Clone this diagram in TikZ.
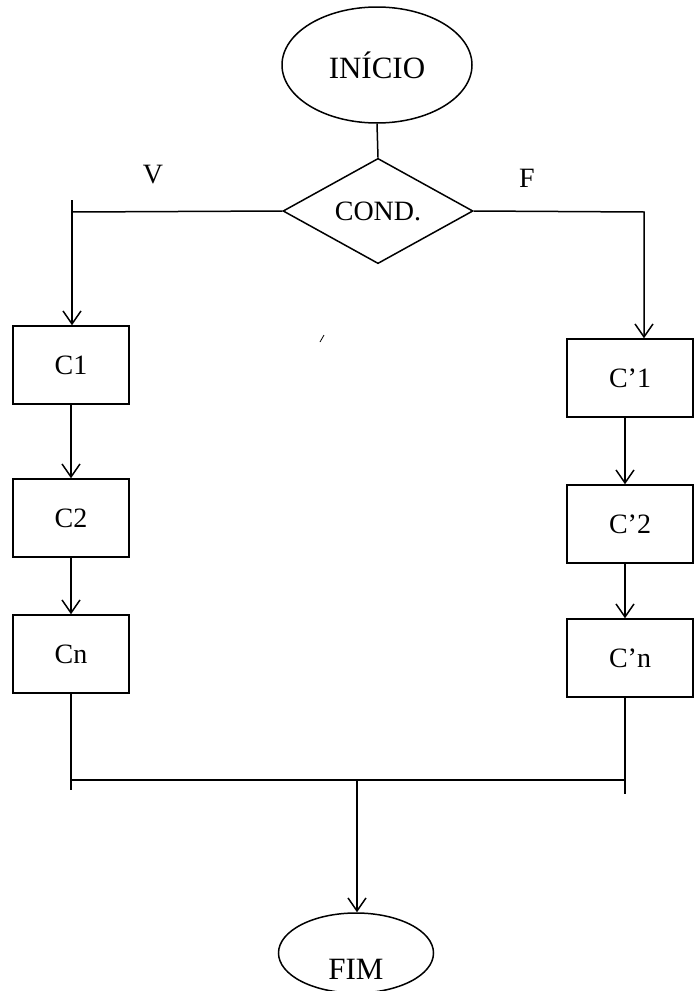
\documentclass[tikz,border=0pt]{standalone}
\usepackage{fontspec}
\setmainfont{Liberation Serif}
\usetikzlibrary{shapes.geometric,arrows.meta,calc}
\begin{document}
\begin{tikzpicture}[x=1pt,y=-1pt,
  line width=1.5pt,
  flow/.style={-{Straight Barb[length=13pt,width=18pt,line width=1.5pt]}},
  terminal/.style={draw,ellipse,inner sep=0pt},
  decision/.style={draw,diamond,inner sep=0pt,minimum width=190pt,minimum height=95pt},
  cmdbox/.style={draw,rectangle,inner sep=0pt,minimum height=78pt},
  txt/.style={font=\fontsize{28}{30}\selectfont},
  bigtxt/.style={font=\fontsize{31}{33}\selectfont}]
  \useasboundingbox (0,0) rectangle (694,991);

  % start, decision
  \node[terminal,minimum width=190pt,minimum height=116pt,bigtxt] (ini) at (377,65) {INÍCIO};
  \node[decision,txt] (cond) at (378,211) {COND.};
  \node[txt] (v) at (153,175) {V};
  \node[txt] (f) at (527,178) {F};

  % true branch
  \node[cmdbox,minimum width=116pt,txt] (c1) at (71,365) {C1};
  \node[cmdbox,minimum width=116pt,txt] (c2) at (71,518) {C2};
  \node[cmdbox,minimum width=116pt,txt] (cn) at (71,654) {Cn};

  % false branch
  \node[cmdbox,minimum width=126pt,txt] (cpa) at (630,378) {C’1};
  \node[cmdbox,minimum width=126pt,txt] (cpb) at (630,524) {C’2};
  \node[cmdbox,minimum width=126pt,txt] (cpn) at (630,658) {C’n};

  % end
  \node[terminal,minimum width=155pt,minimum height=80pt] (fim) at (356,953) {};
  \node[bigtxt] (fimtxt) at (356,969) {FIM};

  % junction points
  \coordinate (lt) at (72,212);
  \coordinate (ltop) at (72,200);
  \coordinate (rt) at (644,212);
  \coordinate (jl) at (71,780);
  \coordinate (jr) at (625,780);
  \coordinate (jlend) at (71,790);
  \coordinate (jrend) at (625,794);
  \coordinate (jm) at (357,780);

  % connectors
  \draw (ini.south) -- (cond.north);
  \draw (cond.west) -- (lt);
  \draw[flow] (ltop) -- (c1.north -| lt);
  \draw[flow] (c1.south) -- (c2.north);
  \draw[flow] (c2.south) -- (cn.north);
  \draw (cn.south) -- (jlend);

  \draw[flow] (cond.east) -- (rt) -- (cpa.north -| rt);
  \draw[flow] (cpa.south -| jr) -- (cpb.north -| jr);
  \draw[flow] (cpb.south -| jr) -- (cpn.north -| jr);
  \draw (cpn.south -| jr) -- (jrend);

  \draw (jl) -- (jr);
  \draw[flow] (jm) -- (fim.north -| jm);

  % small pen stroke
  \draw[line width=0.8pt] (320,342) -- (324,335);
\end{tikzpicture}
\end{document}
